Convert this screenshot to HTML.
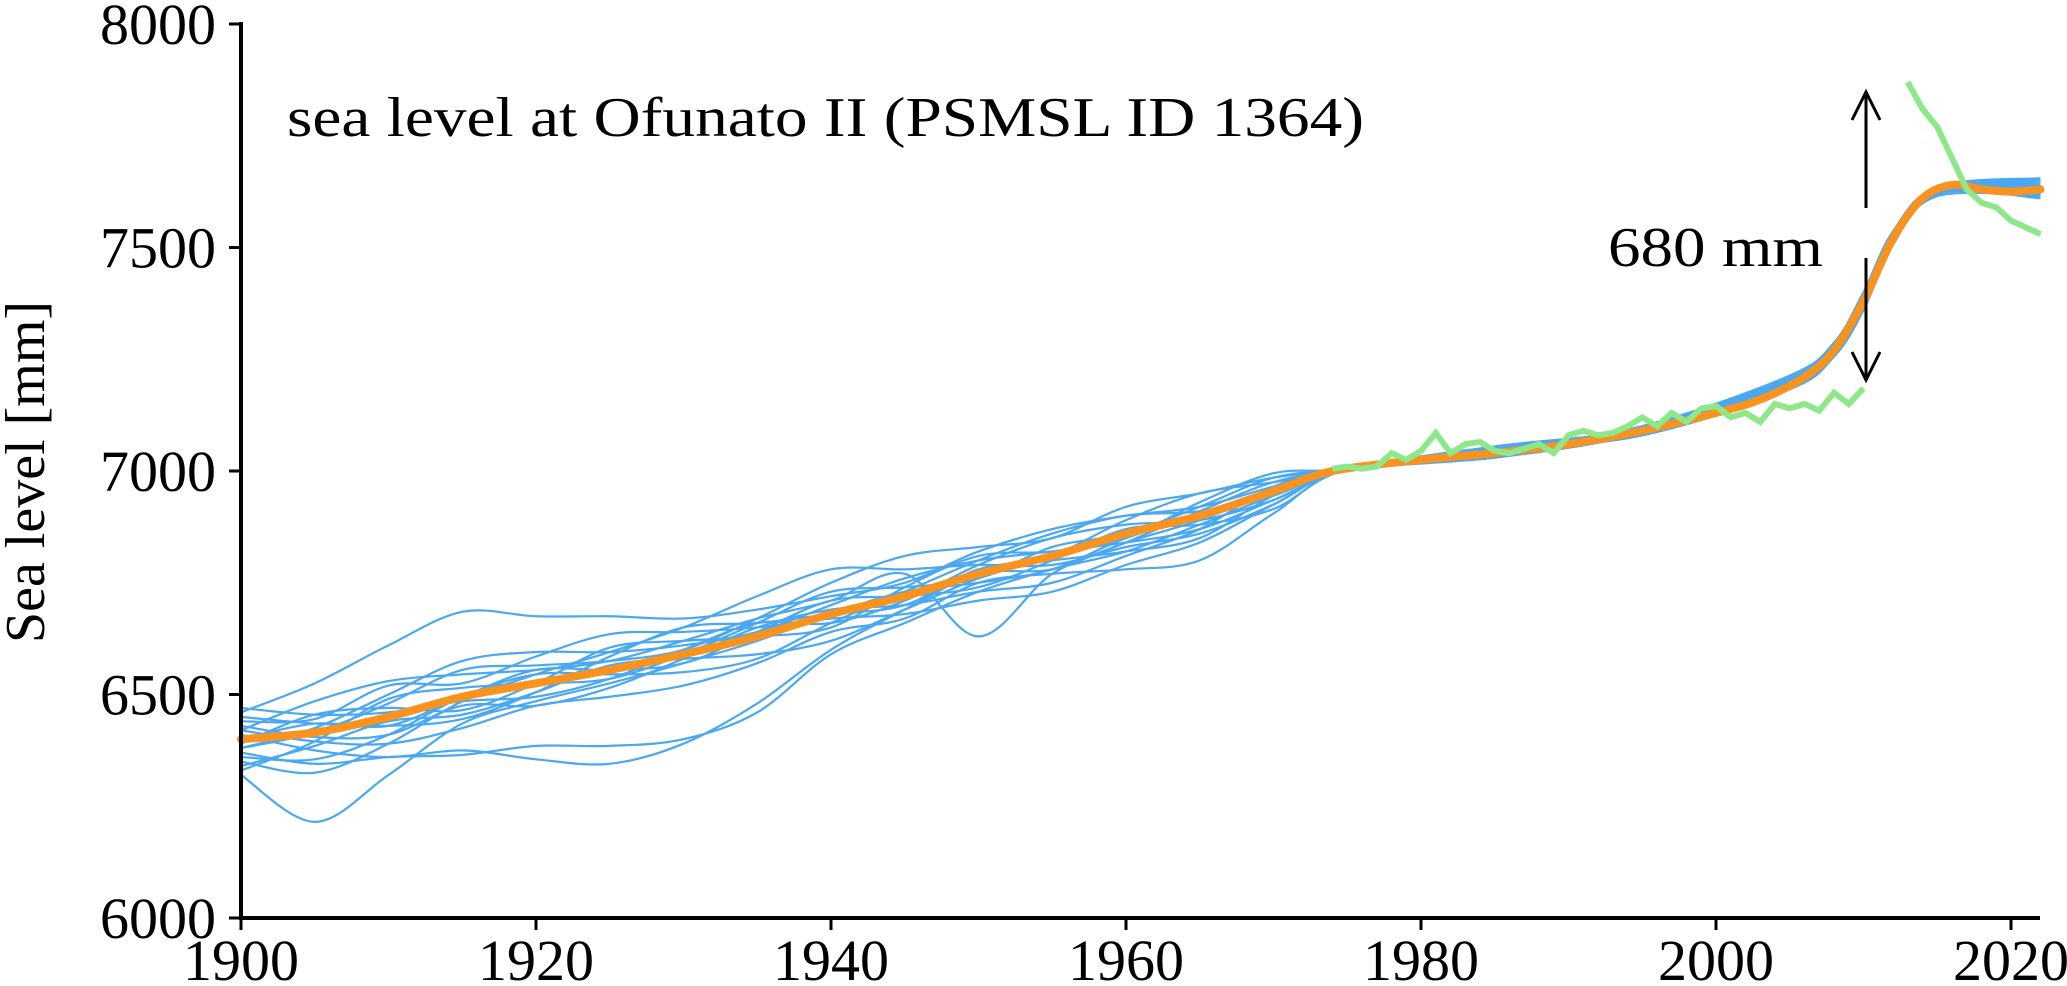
<!DOCTYPE html>
<html><head><meta charset="utf-8"><style>
html,body{margin:0;padding:0;background:#fff;}
svg{display:block;font-family:"Liberation Serif",serif;}
</style></head><body>
<svg id="chart" width="2067" height="986" viewBox="0 0 2067 986" xmlns="http://www.w3.org/2000/svg">
<g id="blue"></g>
<g id="orange"></g>
<g id="green"></g>
<g id="axes"></g>
<text x="287" y="136" font-size="56" textLength="1077" lengthAdjust="spacingAndGlyphs">sea level at Ofunato II (PSMSL ID 1364)</text>
<text transform="translate(44,472) rotate(-90)" font-size="56" text-anchor="middle">Sea level [mm]</text>
<text x="1608" y="266" font-size="56" textLength="215" lengthAdjust="spacingAndGlyphs">680 mm</text>
<g stroke="#000" stroke-width="3" fill="none">
<line x1="1866" y1="208" x2="1866" y2="92"/>
<polyline points="1852,120 1866,92 1880,120"/>
<line x1="1866" y1="258" x2="1866" y2="380"/>
<polyline points="1852,352 1866,380 1880,352"/>
</g>
</svg>
<script>
const yTicks=[6000,6500,7000,7500,8000];
const xTicks=[1900,1920,1940,1960,1980,2000,2020];
const meanYears=[1900,1905,1910,1915,1920,1925,1930,1935,1940,1945,1950,1955,1960,1965,1970,1974,1980,1985,1990,1995,2000,2003,2006,2008,2010,2012,2014,2016,2018,2020,2022];
const meanVals=[6400,6415,6450,6495,6525,6555,6590,6630,6680,6720,6770,6810,6860,6900,6955,7000,7025,7040,7060,7090,7130,7160,7210,7270,7380,7520,7610,7640,7630,7625,7630];
const memberYears=[1900,1905,1910,1915,1920,1925,1930,1935,1940,1945,1950,1955,1960,1965,1970,1975,1985,1995,2005,2010,2015,2022];
const members=[
[60,110,160,190,150,120,80,60,40,30,50,60,40,20,10,0,5,10,10,20,10,20],
[-80,-200,-130,-60,-40,-30,-20,-10,0,10,-20,-30,-10,0,5,0,-5,0,-10,-10,0,5],
[-30,-70,-90,-130,-140,-170,-190,-170,-90,-60,-40,-30,-40,-20,-10,0,0,5,0,0,-5,-10],
[10,-40,-90,-120,-170,-210,-200,-150,-80,-30,0,-30,-20,-10,0,0,5,-5,5,10,0,0],
[20,70,80,50,30,20,30,40,30,50,-140,-40,-20,10,20,0,10,5,-5,-10,5,15],
[-50,-90,-60,-10,20,40,60,90,100,60,20,-20,-30,-40,-30,0,-10,0,10,5,-5,-10],
[40,30,70,30,60,80,50,20,-10,-40,-60,-80,-70,-60,-30,0,5,-10,-5,0,10,25],
[-20,0,30,60,40,20,10,40,70,90,60,40,60,50,30,0,-5,10,15,10,0,-20],
[70,40,10,-10,-30,-20,10,30,-20,-10,20,40,20,-10,-20,0,10,5,0,-5,-5,0],
[-60,-30,-10,-40,-20,10,-10,-40,-60,-30,-10,0,30,50,20,0,0,-5,-10,-15,0,10],
[0,20,-20,0,30,0,-20,10,30,0,-30,-10,10,-20,-40,0,5,10,20,15,5,-5],
[30,-10,-40,-20,-50,-40,-10,20,10,-20,-40,-60,-50,-30,10,0,-10,-5,5,-5,-10,-15],
[-10,40,20,-30,0,50,30,0,-30,20,40,10,-10,30,40,0,10,0,-5,5,5,10],
[-40,-60,-40,0,20,-10,-40,-50,-20,10,30,50,40,10,-10,0,-5,5,10,0,-5,-5],
[50,20,-20,-50,-20,30,60,30,0,-20,10,-10,-40,-50,-10,0,5,-10,-10,-10,5,20],
[-70,-20,40,20,0,-20,0,30,50,20,-10,20,0,20,30,0,0,10,5,10,0,0],
[20,-20,-60,-70,-50,-60,-70,-60,-40,-50,-20,-40,-80,-100,-50,0,-10,0,-5,-20,-5,-10],
[-20,10,50,80,70,40,20,10,20,40,30,10,-20,-30,-20,0,15,5,0,5,10,5]
];
const obsYears1=[1974,1975,1976,1977,1978,1979,1980,1981,1982,1983,1984,1985,1986,1987,1988,1989,1990,1991,1992,1993,1994,1995,1996,1997,1998,1999,2000,2001,2002,2003,2004,2005,2006,2007,2008,2009,2010];
const obsVals1=[7005,7010,7005,7010,7040,7025,7045,7085,7040,7060,7065,7045,7040,7050,7060,7040,7080,7090,7080,7085,7100,7120,7100,7130,7110,7140,7145,7120,7130,7110,7150,7140,7150,7135,7175,7150,7185];
const obsYears2=[2013,2014,2015,2016,2017,2018,2019,2020,2021,2022];
const obsVals2=[7870,7810,7770,7700,7630,7600,7590,7560,7545,7530];

const X=t=>241+(t-1900)*14.75;
const Y=v=>918-(v-6000)*0.447;
const NS='http://www.w3.org/2000/svg';
function interp(xs,ys,t){for(let i=0;i<xs.length-1;i++){if(t<=xs[i+1]){const f=(t-xs[i])/(xs[i+1]-xs[i]);return ys[i]+f*(ys[i+1]-ys[i]);}}return ys[ys.length-1];}
function smoothPath(pts){let d='M'+pts[0][0]+','+pts[0][1];for(let i=0;i<pts.length-1;i++){const p0=pts[Math.max(0,i-1)],p1=pts[i],p2=pts[i+1],p3=pts[Math.min(pts.length-1,i+2)];d+=' C'+(p1[0]+(p2[0]-p0[0])/6)+','+(p1[1]+(p2[1]-p0[1])/6)+' '+(p2[0]-(p3[0]-p1[0])/6)+','+(p2[1]-(p3[1]-p1[1])/6)+' '+p2[0]+','+p2[1];}return d;}
function mk(tag,attrs,parent){const e=document.createElementNS(NS,tag);for(const k in attrs)e.setAttribute(k,attrs[k]);parent.appendChild(e);return e;}
const blue=document.getElementById('blue');
members.forEach((m,i)=>{
  const pts=memberYears.map((t,j)=>[X(t),Y(interp(meanYears,meanVals,t)+m[j])]);
  const extra=[2008,2012].map(t=>[X(t),Y(interp(meanYears,meanVals,t)+interp(memberYears,m,t))]);
  const all=pts.concat(extra).sort((a,b)=>a[0]-b[0]);
  const p=mk('path',{d:smoothPath(all),fill:'none',stroke:'#4aa8f2','stroke-width':2.2},blue);
  
  
});
const om=mk('path',{d:smoothPath(meanYears.map((t,i)=>[X(t),Y(meanVals[i])])),fill:'none',stroke:'#f7931e','stroke-width':8,'stroke-linecap':'round'},document.getElementById('orange'));


const g=document.getElementById('green');
[[obsYears1,obsVals1],[obsYears2,obsVals2]].forEach(([ys,vs])=>{
  const p=mk('polyline',{points:ys.map((t,i)=>X(t)+','+Y(vs[i])).join(' '),fill:'none',stroke:'#8ee88a','stroke-width':6,'stroke-linejoin':'miter'},g);
  
  
});
const ax=document.getElementById('axes');
const yl=mk('line',{x1:241,y1:22,x2:241,y2:920,stroke:'#000','stroke-width':4},ax);


const xl=mk('line',{x1:239,y1:918,x2:2040,y2:918,stroke:'#000','stroke-width':4},ax);


yTicks.forEach(v=>{
  const t=mk('line',{x1:229,y1:Y(v),x2:241,y2:Y(v),stroke:'#000','stroke-width':3},ax);
  
  
  const l=mk('text',{x:216,y:Y(v)+20,'font-size':58,'text-anchor':'end'},ax);
  l.textContent=v;
  
  
});
xTicks.forEach(v=>{
  const t=mk('line',{x1:X(v),y1:918,x2:X(v),y2:930,stroke:'#000','stroke-width':3},ax);
  
  
  const l=mk('text',{x:X(v),y:980,'font-size':58,'text-anchor':'middle'},ax);
  l.textContent=v;
  
  
});
</script>
</body></html>
